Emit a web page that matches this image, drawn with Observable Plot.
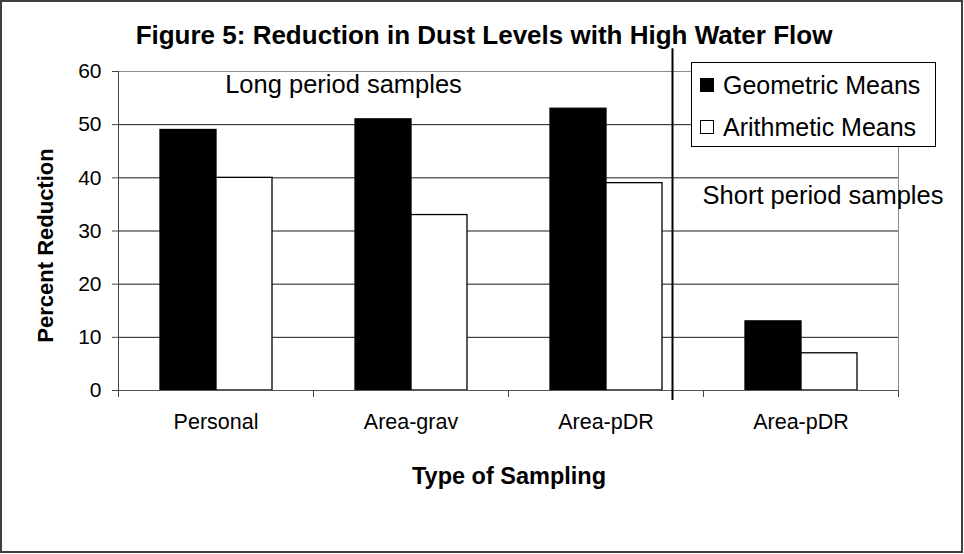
<!DOCTYPE html>
<html>
<head>
<meta charset="utf-8">
<script src="https://cdn.jsdelivr.net/npm/d3@7"></script>
<script src="https://cdn.jsdelivr.net/npm/@observablehq/plot@0.6"></script>
<style>
  html, body { margin: 0; padding: 0; background: #fff; }
  #wrap { position: relative; width: 964px; height: 554px; overflow: hidden; font-family: "Liberation Sans", Arial, sans-serif; }
  #wrap svg { position: absolute; left: 0; top: 0; }
  #border { position: absolute; left: 0; top: 0; width: 963px; height: 553px; border: 2px solid #404040; box-sizing: border-box; pointer-events: none; }
  #legend { position: absolute; left: 691px; top: 62px; width: 245px; height: 85px; box-sizing: border-box; border: 1px solid #000; background: #fff; padding-top: 1px; }
  #legend .row { height: 42px; display: flex; align-items: center; padding-left: 8px; font-size: 25px; color: #000; }
  #legend .sw { width: 14px; height: 14px; box-sizing: border-box; border: 1px solid #000; margin-right: 9px; flex: none; }
</style>
</head>
<body>
<div id="wrap"></div>
<script>
// ---- data ----
const categories = ["Personal", "Area-grav", "Area-pDR", "Area-pDR"];
const periods = ["Long", "Long", "Long", "Short"];
const series = ["Geometric Means", "Arithmetic Means"];
const seriesColors = ["#000000", "#ffffff"];
const geometricMeans = [49, 51, 53, 13];
const arithmeticMeans = [40, 33, 39, 7];
const yTicks = [0, 10, 20, 30, 40, 50, 60];
const gridValues = [10, 20, 30, 40, 50];
const titleText = "Figure 5: Reduction in Dust Levels with High Water Flow";
const xTitle = "Type of Sampling";
const yTitle = "Percent Reduction";
const longLabel = "Long period samples";
const shortLabel = "Short period samples";

const catIdx = categories.map((c, i) => i);
const data = catIdx.flatMap(i => [
  {cat: i, series: series[0], value: geometricMeans[i]},
  {cat: i, series: series[1], value: arithmeticMeans[i]}
]);
const lastLong = periods.indexOf("Short") - 1;

const plot = Plot.plot({
  width: 964,
  height: 554,
  marginTop: 71,
  marginLeft: 117,
  marginRight: 66,
  marginBottom: 164,
  style: {fontFamily: "'Liberation Sans', Arial, sans-serif", fontSize: "20px", color: "#000", background: "transparent", overflow: "visible"},
  fx: {domain: catIdx, padding: 0, label: null},
  x: {domain: series, paddingInner: 0, paddingOuter: 0.7127, axis: null},
  y: {domain: [0, 60], label: null},
  color: {domain: series, range: seriesColors},
  marks: [
    Plot.frame({facet: "super", stroke: "#8c8c8c"}),
    Plot.ruleY(gridValues, {stroke: "#1a1a1a", strokeWidth: 1}),
    Plot.barY(data, {fx: "cat", x: "series", y: "value", fill: "series", stroke: "#000", strokeWidth: 1.3}),
    Plot.ruleY([0], {stroke: "#555"}),
    Plot.frame({facet: "super", anchor: "left", stroke: "#444", insetBottom: -6}),
    Plot.frame({anchor: "left", stroke: "#444", insetTop: 319, insetBottom: -6}),
    Plot.frame({facet: "super", anchor: "right", stroke: "#444", insetTop: 319, insetBottom: -6}),
    Plot.axisY({ticks: yTicks, tickSize: 6, tickPadding: 11, fontSize: 21, label: null, stroke: "#444"}),
    Plot.axisFx({anchor: "bottom", tickSize: 0, tickPadding: 23, fontSize: 21.5, label: null, tickFormat: i => categories[i]}),
    Plot.ruleX([lastLong], {fx: d => d, x: () => series[1], dx: 38, y1: -1.9, y2: 64.3, stroke: "#000", strokeWidth: 2}),
    Plot.text([titleText], {facet: "super", frameAnchor: "top", textAnchor: "middle", dx: -24.5, dy: -36, fontSize: 26, fontWeight: "bold", lineAnchor: "middle"}),
    Plot.text([longLabel], {facet: "super", frameAnchor: "top-left", textAnchor: "middle", dx: 225, dy: 13, fontSize: 25.5, lineAnchor: "middle"}),
    Plot.text([shortLabel], {facet: "super", frameAnchor: "top-left", textAnchor: "middle", dx: 704.5, dy: 124, fontSize: 25.5, lineAnchor: "middle"}),
    Plot.text([xTitle], {facet: "super", frameAnchor: "bottom", textAnchor: "middle", dx: 0.5, dy: 85.5, fontSize: 23.5, fontWeight: "bold", lineAnchor: "middle"}),
    Plot.text([yTitle], {facet: "super", frameAnchor: "left", textAnchor: "middle", dx: -73, dy: 14.5, rotate: -90, fontSize: 22, fontWeight: "bold", lineAnchor: "middle"})
  ]
});

const wrap = document.getElementById("wrap");
wrap.appendChild(plot);

// legend
const legend = document.createElement("div");
legend.id = "legend";
series.forEach((s, i) => {
  const row = document.createElement("div");
  row.className = "row";
  const sw = document.createElement("span");
  sw.className = "sw";
  sw.style.background = seriesColors[i];
  const lab = document.createElement("span");
  lab.textContent = s;
  row.appendChild(sw);
  row.appendChild(lab);
  legend.appendChild(row);
});
wrap.appendChild(legend);

const border = document.createElement("div");
border.id = "border";
wrap.appendChild(border);
</script>
</body>
</html>
